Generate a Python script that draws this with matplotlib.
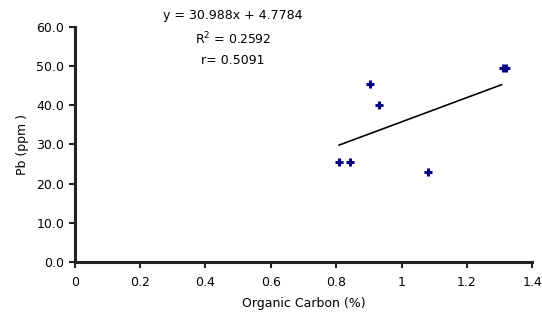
import matplotlib
matplotlib.use("Agg")
import matplotlib.pyplot as plt

# organic carbon (%) vs Pb (ppm)
carbon = [0.809, 0.841, 0.902, 0.930, 1.080, 1.312, 1.320]
pb = [25.5, 25.5, 45.5, 40.1, 23.0, 49.6, 49.6]

# trendline from the fitted equation
slope = 30.988
intercept = 4.7784
fit_x = [min(carbon), 1.306]
fit_y = [slope * v + intercept for v in fit_x]

x_ticks = [0, 0.2, 0.4, 0.6, 0.8, 1, 1.2, 1.4]
x_labels = ["0", "0.2", "0.4", "0.6", "0.8", "1", "1.2", "1.4"]
y_ticks = [0, 10, 20, 30, 40, 50, 60]
y_labels = ["0.0", "10.0", "20.0", "30.0", "40.0", "50.0", "60.0"]

plt.rcParams['font.family'] = ['DejaVu Sans']

fig = plt.figure(figsize=(5.42, 3.2), dpi=100)
ax = fig.add_axes([0.138, 0.181, 0.844, 0.735])

ax.plot(fit_x, fit_y, color='black', linewidth=1.2)
ax.plot(carbon, pb, linestyle='none', marker='+', markersize=5.5,
        markeredgewidth=2.2, color='#000080')

ax.set_xlim(0, 1.4)
ax.set_ylim(0, 60)
ax.set_xticks(x_ticks)
ax.set_xticklabels(x_labels)
ax.set_yticks(y_ticks)
ax.set_yticklabels(y_labels)
ax.tick_params(labelsize=9, width=1.5, length=4, direction='out', color='#222222')
ax.tick_params(axis='x', pad=6)

for s in ['top', 'right']:
    ax.spines[s].set_visible(False)
for s in ['left', 'bottom']:
    ax.spines[s].set_linewidth(2.2)
    ax.spines[s].set_color('#222222')

ax.set_xlabel('Organic Carbon (%)', fontsize=9, labelpad=6)
ax.set_ylabel('Pb (ppm )', fontsize=9, labelpad=5)

# equation text
fig.text(233 / 542, 1 - 16 / 320, 'y = 30.988x + 4.7784', ha='center', va='center', fontsize=9)
fig.text(233 / 542, 1 - 39 / 320, 'R$^2$ = 0.2592', ha='center', va='center', fontsize=9)
fig.text(233 / 542, 1 - 60 / 320, 'r= 0.5091', ha='center', va='center', fontsize=9)

fig.savefig('out.png', dpi=100)
